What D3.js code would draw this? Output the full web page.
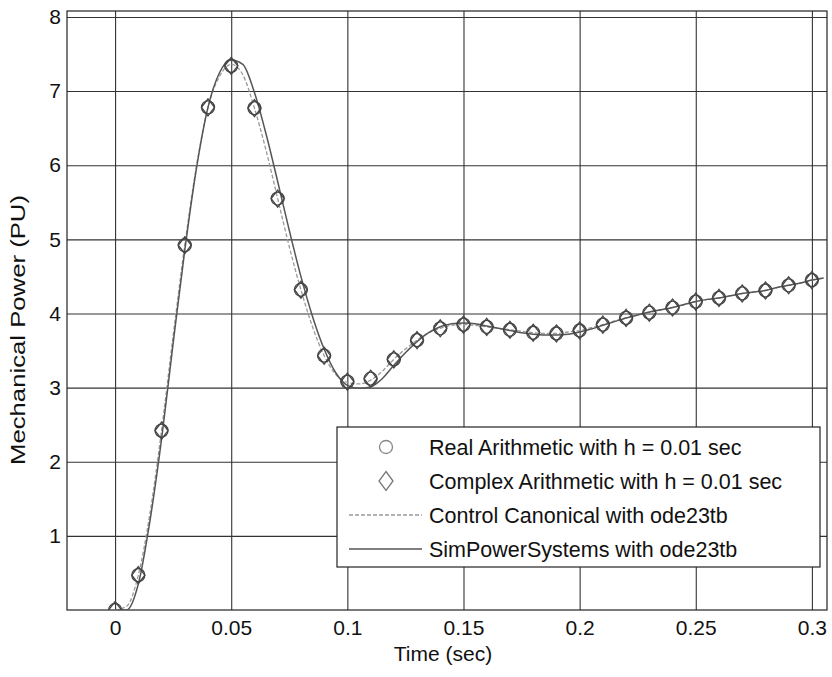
<!DOCTYPE html>
<html>
<head>
<meta charset="utf-8">
<script src="https://cdn.jsdelivr.net/npm/d3@7"></script>
<style>
  body { margin: 0; background: #fff; }
  text { font-family: "Liberation Sans", Arial, sans-serif; fill: #111; }
</style>
</head>
<body>
<svg id="chart" width="832" height="677"></svg>
<script>
// sample times of the two step methods (h = 0.01 s)
const sampleT = [0, 0.01, 0.02, 0.03, 0.04, 0.05, 0.06, 0.07, 0.08, 0.09, 0.10,
  0.11, 0.12, 0.13, 0.14, 0.15, 0.16, 0.17, 0.18, 0.19, 0.20,
  0.21, 0.22, 0.23, 0.24, 0.25, 0.26, 0.27, 0.28, 0.29, 0.30];
const realArith = [0, 0.47, 2.42, 4.92, 6.78, 7.34, 6.77, 5.55, 4.32, 3.43, 3.08,
  3.12, 3.38, 3.64, 3.80, 3.85, 3.82, 3.78, 3.74, 3.73, 3.77,
  3.85, 3.94, 4.01, 4.08, 4.16, 4.21, 4.27, 4.31, 4.38, 4.45];
const complexArith = [0, 0.47, 2.42, 4.92, 6.78, 7.34, 6.77, 5.55, 4.32, 3.43, 3.08,
  3.12, 3.38, 3.64, 3.80, 3.85, 3.82, 3.78, 3.74, 3.73, 3.77,
  3.85, 3.94, 4.01, 4.08, 4.16, 4.21, 4.27, 4.31, 4.38, 4.45];

// ode23tb traces, read every 0.005 s
const odeT = [0, 0.005, 0.01, 0.015, 0.02, 0.025, 0.03, 0.035, 0.04, 0.045, 0.05,
  0.055, 0.06, 0.065, 0.07, 0.075, 0.08, 0.085, 0.09, 0.095, 0.10,
  0.105, 0.11, 0.115, 0.12, 0.125, 0.13, 0.135, 0.14, 0.145, 0.15,
  0.155, 0.16, 0.165, 0.17, 0.175, 0.18, 0.185, 0.19, 0.195, 0.20,
  0.205, 0.21, 0.215, 0.22, 0.225, 0.23, 0.235, 0.24, 0.245, 0.25,
  0.255, 0.26, 0.265, 0.27, 0.275, 0.28, 0.285, 0.29, 0.295, 0.30, 0.305];
const controlCanon = [0, 0.05, 0.47, 1.30, 2.42, 3.70, 4.92, 5.98, 6.78, 7.20, 7.36,
  7.22, 6.77, 6.20, 5.55, 4.90, 4.32, 3.82, 3.43, 3.18, 3.07,
  3.05, 3.10, 3.22, 3.38, 3.52, 3.64, 3.74, 3.80, 3.84, 3.85,
  3.84, 3.82, 3.80, 3.78, 3.76, 3.74, 3.73, 3.73, 3.75, 3.77,
  3.81, 3.85, 3.90, 3.94, 3.98, 4.01, 4.05, 4.08, 4.12, 4.16,
  4.19, 4.21, 4.24, 4.27, 4.29, 4.31, 4.35, 4.38, 4.41, 4.45, 4.48];
const simPower = [0, 0.0, 0.35, 1.20, 2.30, 3.60, 4.85, 5.95, 6.78, 7.25, 7.42,
  7.36, 6.98, 6.42, 5.78, 5.12, 4.50, 3.96, 3.52, 3.20, 3.03,
  2.99, 3.01, 3.12, 3.30, 3.47, 3.62, 3.74, 3.82, 3.86, 3.87,
  3.86, 3.83, 3.80, 3.77, 3.74, 3.72, 3.71, 3.71, 3.72, 3.75,
  3.79, 3.84, 3.89, 3.94, 3.98, 4.02, 4.05, 4.08, 4.12, 4.16,
  4.19, 4.21, 4.24, 4.27, 4.29, 4.31, 4.35, 4.38, 4.41, 4.45, 4.48];

const xTicks = [0, 0.05, 0.1, 0.15, 0.2, 0.25, 0.3];
const yTicks = [1, 2, 3, 4, 5, 6, 7, 8];
const legendLabels = ["Real Arithmetic with h = 0.01 sec",
  "Complex Arithmetic with h = 0.01 sec",
  "Control Canonical with ode23tb",
  "SimPowerSystems with ode23tb"];

// plot box
const boxL = 67, boxR = 827, boxT = 11, boxB = 610;
const w = boxR - boxL, h = boxB - boxT;

const svg = d3.select("#chart");
const g = svg.append("g").attr("transform", `translate(${boxL},${boxT})`);

const x = d3.scaleLinear().domain([-0.0207, 0.3065]).range([0, w]);
const y = d3.scaleLinear().domain([0, 8.08]).range([h, 0]);

// grid + tick labels
const xAxis = g.append("g")
  .attr("transform", `translate(0,${h})`)
  .call(d3.axisBottom(x).tickValues(xTicks).tickSize(-h).tickPadding(10)
    .tickFormat(d => d3.format("~g")(d)));
const yAxis = g.append("g")
  .call(d3.axisLeft(y).tickValues(yTicks).tickSize(-w).tickPadding(6)
    .tickFormat(d3.format("d")));

[xAxis, yAxis].forEach(a => {
  a.select(".domain").remove();
  a.selectAll("line").attr("stroke", "#333").attr("stroke-width", 1.1);
  a.selectAll("text").style("font-size", "21px").attr("fill", "#111");
});

// box
g.append("rect")
  .attr("width", w).attr("height", h)
  .attr("fill", "none").attr("stroke", "#222").attr("stroke-width", 1.2);

// clip curves to the axes
svg.append("clipPath").attr("id", "clip")
  .append("rect").attr("width", w).attr("height", h);
const plot = g.append("g").attr("clip-path", "url(#clip)");

const line = d3.line()
  .x(d => x(d[0])).y(d => y(d[1]))
  .curve(d3.curveMonotoneX);

plot.append("path")
  .datum(d3.zip(odeT, controlCanon))
  .attr("d", line)
  .attr("fill", "none").attr("stroke", "#9a9a9a")
  .attr("stroke-width", 1.3).attr("stroke-dasharray", "4,2");

plot.append("path")
  .datum(d3.zip(odeT, simPower))
  .attr("d", line)
  .attr("fill", "none").attr("stroke", "#555")
  .attr("stroke-width", 1.5);

// markers
const diamond = (cx, cy, rx, ry) =>
  `M${cx},${cy - ry}L${cx + rx},${cy}L${cx},${cy + ry}L${cx - rx},${cy}Z`;

plot.selectAll(".circ")
  .data(d3.zip(sampleT, realArith))
  .enter().append("circle")
  .attr("class", "circ")
  .attr("cx", d => x(d[0])).attr("cy", d => y(d[1]))
  .attr("r", 6.5)
  .attr("fill", "none").attr("stroke", "#444").attr("stroke-width", 1.3);

plot.selectAll(".diam")
  .data(d3.zip(sampleT, complexArith))
  .enter().append("path")
  .attr("class", "diam")
  .attr("d", d => diamond(x(d[0]), y(d[1]), 6.5, 8.5))
  .attr("fill", "none").attr("stroke", "#444").attr("stroke-width", 1.3);

// axis titles
svg.append("text")
  .attr("x", (boxL + boxR) / 2 - 4).attr("y", 661)
  .attr("text-anchor", "middle")
  .style("font-size", "21px")
  .text("Time (sec)");

svg.append("text")
  .attr("transform", "translate(25,330) rotate(-90)")
  .attr("text-anchor", "middle")
  .attr("textLength", 270)
  .attr("lengthAdjust", "spacingAndGlyphs")
  .style("font-size", "21px")
  .text("Mechanical Power (PU)");

// legend
const lg = svg.append("g").attr("transform", "translate(337,427)");
lg.append("rect")
  .attr("width", 483).attr("height", 140)
  .attr("fill", "#fff").attr("stroke", "#222").attr("stroke-width", 1.2);

const rowY = i => 20 + i * 34;
const rows = lg.selectAll(".row")
  .data(legendLabels)
  .enter().append("g")
  .attr("class", "row")
  .attr("transform", (d, i) => `translate(0,${rowY(i)})`);

rows.append("text")
  .attr("x", 92).attr("dy", "0.35em")
  .style("font-size", "21.5px")
  .text(d => d);

lg.append("circle")
  .attr("cx", 49).attr("cy", rowY(0)).attr("r", 6.5)
  .attr("fill", "none").attr("stroke", "#888").attr("stroke-width", 1.3);
lg.append("path")
  .attr("d", diamond(49, rowY(1), 7, 9.5))
  .attr("fill", "none").attr("stroke", "#777").attr("stroke-width", 1.3);
lg.append("line")
  .attr("x1", 12).attr("x2", 85).attr("y1", rowY(2)).attr("y2", rowY(2))
  .attr("stroke", "#9a9a9a").attr("stroke-width", 1.3).attr("stroke-dasharray", "4,2");
lg.append("line")
  .attr("x1", 12).attr("x2", 85).attr("y1", rowY(3)).attr("y2", rowY(3))
  .attr("stroke", "#555").attr("stroke-width", 1.5);
</script>
</body>
</html>
